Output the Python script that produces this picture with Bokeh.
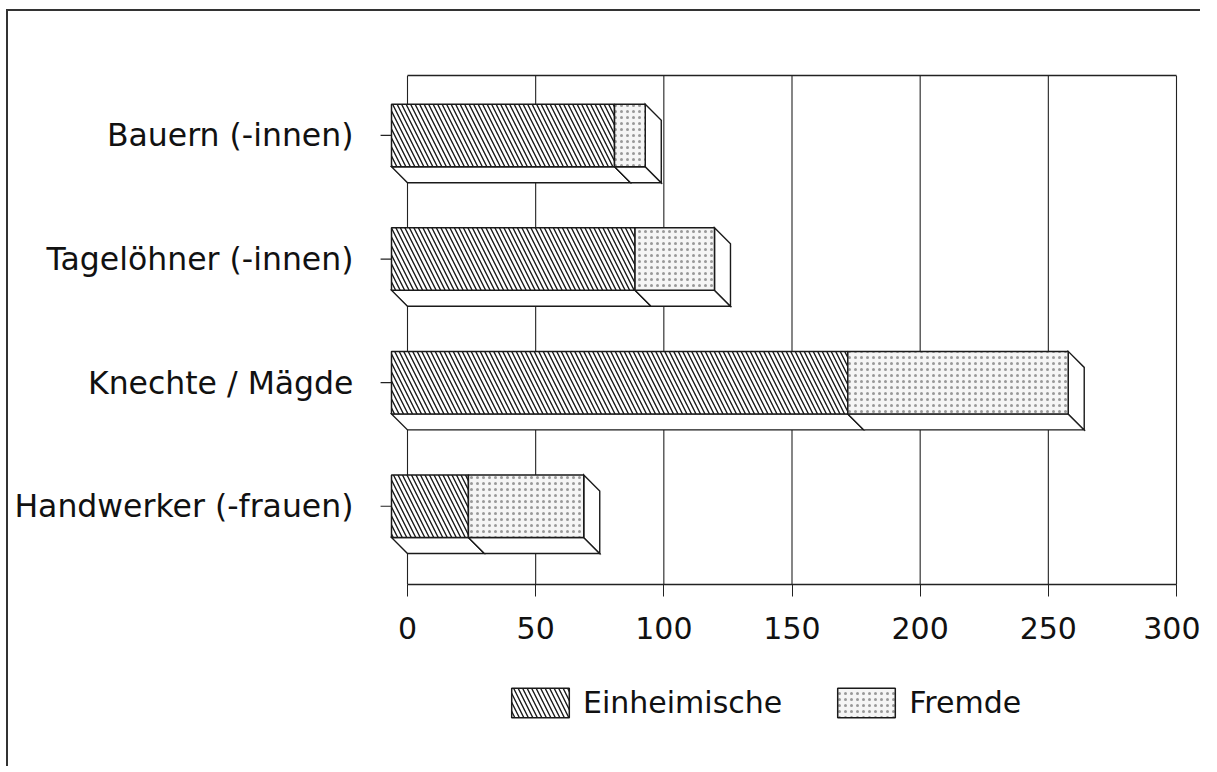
from bokeh.plotting import figure
from bokeh.models import FixedTicker, LinearAxis, Legend, LegendItem, ColumnDataSource
from bokeh.embed import file_html
from bokeh.resources import INLINE

# ---- data -------------------------------------------------------------
categories = ["Bauern (-innen)", "Tagelöhner (-innen)", "Knechte / Mägde", "Handwerker (-frauen)"]
einheimische = [87, 95, 178, 30]
fremde = [12, 31, 86, 45]
x_ticks = [0, 50, 100, 150, 200, 250, 300]
series_names = ["Einheimische", "Fremde"]

# category positions (top to bottom)
positions = [4, 3, 2, 1]

# ---- style / 3d geometry (in data units) ---------------------------
DX = 6.24      # horizontal depth (≈16 px)
DY = 0.1295    # vertical depth (≈16 px)
H = 0.253      # half bar height
Y_TOP = 4.485  # top of the plotting box
Y_AXIS = 0.367 # where the value axis sits
PX = 2.5633    # pixels per x unit
FONT = "DejaVu Sans"
INK = "#1a1a1a"

page_border = {
    "background-image": "linear-gradient(#333333,#333333), linear-gradient(#333333,#333333)",
    "background-size": "2px 100%, 100% 2px",
    "background-position": "6px 9px, 6px 9px",
    "background-repeat": "no-repeat",
}

p = figure(width=1200, height=766, output_backend="svg", toolbar_location=None,
           x_range=(-31 / PX, x_ticks[-1] + 24 / PX), y_range=(Y_TOP - 685 / 123.6, Y_TOP),
           min_border_left=376, min_border_right=0, min_border_top=75, min_border_bottom=6,
           outline_line_color=None, background_fill_color="white", border_fill_color=None,
           styles=page_border)

p.xgrid.visible = False
p.ygrid.visible = False

# vertical grid lines and right frame line (under the bars)
grid_x = x_ticks
p.segment(x0=grid_x, x1=grid_x, y0=[Y_AXIS] * len(grid_x), y1=[Y_TOP] * len(grid_x),
          line_color="#222222", line_width=1.1)

# bottom (value) axis, fixed inside the frame
p.xaxis.fixed_location = Y_AXIS
p.xaxis.ticker = FixedTicker(ticks=x_ticks)
p.xaxis.bounds = (x_ticks[0], x_ticks[-1])
p.xaxis.major_tick_out = 12
p.xaxis.major_tick_in = 0
p.xaxis.minor_tick_line_color = None
p.xaxis.axis_line_color = "#222222"
p.xaxis.axis_line_width = 1.5
p.xaxis.major_tick_line_color = "#222222"
p.xaxis.major_label_text_font = FONT
p.xaxis.major_label_text_font_size = "30px"
p.xaxis.major_label_text_color = "#111111"
p.xaxis.major_label_standoff = 21

# left axis: labels only
p.yaxis.ticker = FixedTicker(ticks=positions)
p.yaxis.major_label_overrides = {pos: cat for pos, cat in zip(positions, categories)}
p.yaxis.axis_line_color = None
p.yaxis.major_tick_line_color = None
p.yaxis.minor_tick_line_color = None
p.yaxis.major_tick_out = 0
p.yaxis.major_label_standoff = 23
p.yaxis.major_label_text_font = FONT
p.yaxis.major_label_text_font_size = "31.5px"
p.yaxis.major_label_text_color = "#111111"

# top frame line
top_axis = LinearAxis(ticker=FixedTicker(ticks=[]), bounds=(x_ticks[0], x_ticks[-1]),
                      axis_line_color="#222222", axis_line_width=1.5,
                      major_tick_line_color=None, minor_tick_line_color=None,
                      major_label_text_color=None)
p.add_layout(top_axis, "above")

# category ticks (under the bars)
p.segment(x0=[-10.5] * len(positions), x1=[0] * len(positions), y0=positions, y1=positions,
          line_color="#222222", line_width=1.2)

# ---- 3D side faces ----------------------------------------------------
side_xs, side_ys = [], []
for c, e, f in zip(positions, einheimische, fremde):
    total = e + f
    for a, b in [(0, e), (e, total)]:
        side_xs.append([a - DX, b - DX, b, a])
        side_ys.append([c - H, c - H, c - H - DY, c - H - DY])
    side_xs.append([total - DX, total, total, total - DX])
    side_ys.append([c + H, c + H - DY, c - H - DY, c - H])
p.patches(xs=side_xs, ys=side_ys, fill_color="white", line_color=INK, line_width=1.4,
          line_join="miter")

# ---- front faces ------------------------------------------------------
totals = [e + f for e, f in zip(einheimische, fremde)]
src = ColumnDataSource(dict(
    top=[c + H for c in positions], bottom=[c - H for c in positions],
    l1=[0 - DX] * len(positions), r1=[e - DX for e in einheimische],
    l2=[e - DX for e in einheimische], r2=[t - DX for t in totals]))

r_e = p.quad(left="l1", right="r1", top="top", bottom="bottom", source=src,
             fill_color="white", hatch_pattern="\\", hatch_color=INK,
             hatch_scale=9, hatch_weight=1.4,
             line_color=INK, line_width=1.5)
r_f = p.quad(left="l2", right="r2", top="top", bottom="bottom", source=src,
             fill_color="#f5f5f5", hatch_pattern=".", hatch_color="#999999",
             hatch_scale=6, hatch_weight=1.0,
             line_color=INK, line_width=1.5)

legend = Legend(items=[LegendItem(label=series_names[0], renderers=[r_e]),
                       LegendItem(label=series_names[1], renderers=[r_f])],
                location=(128, 39), orientation="horizontal",
                glyph_width=72, glyph_height=37, label_standoff=7, spacing=48,
                label_text_font=FONT, label_text_font_size="30px", label_text_color="#111111",
                label_height=37, padding=0, margin=0,
                border_line_color=None, background_fill_alpha=0)
p.add_layout(legend, "center")

open("out.html", "w").write(file_html(p, INLINE))
